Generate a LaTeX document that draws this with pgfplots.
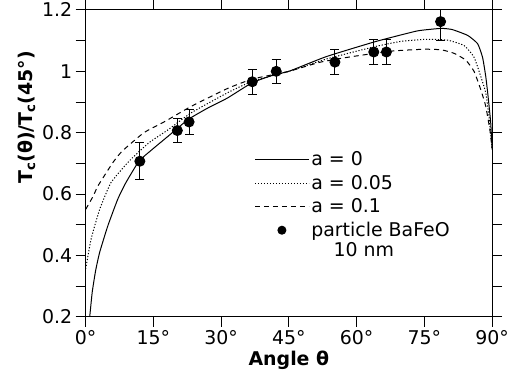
\documentclass[border=0pt]{standalone}
\usepackage{fontspec}
\setmainfont{DejaVu Sans}
\usepackage{pgfplots}
\pgfplotsset{compat=1.18}
\pgfplotsset{lineleg/.style={legend image code/.code={\draw[##1] (0pt,0pt) -- (54pt,0pt);}},
  dotleg/.style={legend image code/.code={\fill (27pt,0pt) circle (4pt);}}}
\begin{document}
\begin{tikzpicture}
\begin{axis}[name=ax, scale only axis, width=408pt, height=308pt,
 xmin=0, xmax=90, ymin=0.2, ymax=1.2,
 xtick={0,15,30,45,60,75,90}, xticklabels={0°,15°,30°,45°,60°,75°,90°},
 ytick={0.2,0.4,0.6,0.8,1.0,1.2}, yticklabels={0.2,0.4,0.6,0.8,1,1.2},
 minor ytick={0.3,0.5,0.7,0.9,1.1},
 tick align=outside, major tick length=10pt, minor tick length=10pt,
 tick style={black, line width=1pt},
 axis line style={line width=1pt},
 ticklabel style={font=\fontsize{19}{19}\selectfont},
 xlabel={Angle θ},
 ylabel={T\textsubscript{c}(θ)/T\textsubscript{c}(45°)},
 label style={font=\bfseries\fontsize{19}{19}\selectfont},
 every axis y label/.append style={at={(ticklabel cs:0.65)}},
 legend cell align=left,
 legend style={at={(rel axis cs:0.415,0.545)}, anchor=north west, draw=none, fill=none,
   inner sep=0pt, font=\fontsize{19}{22}\selectfont, row sep=4pt},
 every axis plot/.append style={line width=1pt},
]
\addplot[black, solid, smooth, tension=0.3, lineleg] coordinates {
(0.9,0.2) (1.45,0.28) (2.2,0.35) (3.1,0.41) (4.9,0.496) (7.1,0.583) (8.9,0.637)
(11.8,0.707) (14.7,0.745) (18.3,0.789) (22.7,0.843) (27,0.88) (31.4,0.913)
(36.9,0.963) (42,0.99) (45,1.0) (53.3,1.048) (64.2,1.097) (72.9,1.13) (75.1,1.135)
(78.8,1.14) (81.2,1.136) (84.6,1.117) (86.8,1.09) (87.9,1.045) (88.6,0.983)
(89.1,0.92) (89.7,0.832) (90,0.745)};
\addlegendentry{a = 0}
\addplot[black, dash pattern=on 1.2pt off 1.8pt, smooth, tension=0.3, lineleg] coordinates {
(0,0.356) (1.2,0.453) (3.1,0.55) (5.6,0.637) (9.6,0.707) (14,0.767) (18.3,0.81)
(23.4,0.865) (31.4,0.93) (37,0.968) (45,1.0) (53.3,1.04) (64.2,1.081) (70,1.098)
(75,1.104) (80,1.102) (83.8,1.084) (86,1.046) (87.5,0.983) (88.6,0.93) (89.3,0.854) (90,0.75)};
\addlegendentry{a = 0.05}
\addplot[black, dash pattern=on 5pt off 4pt, smooth, tension=0.3, lineleg] coordinates {
(0,0.55) (1.7,0.594) (2.7,0.626) (6,0.702) (8.1,0.74) (12.9,0.8) (17.6,0.837)
(23.4,0.886) (31.4,0.944) (37,0.975) (45,1.0) (52,1.03) (59,1.048) (67.8,1.066)
(75,1.072) (78.8,1.07) (81.7,1.058) (84.2,1.036) (86,1.0) (87.5,0.94) (88.6,0.886)
(89.5,0.81) (90,0.75)};
\addlegendentry{a = 0.1}
\addplot[black, only marks, mark=*, mark size=5pt, dotleg,
  error bars/.cd, y dir=both, y explicit,
  error mark options={rotate=90, mark size=4.5pt, line width=1pt},
  error bar style={line width=1pt}]
  table[x=x, y=y, y error=e] {
x y e
12.0 0.707 0.06
20.3 0.807 0.04
22.9 0.835 0.04
36.9 0.966 0.04
42.2 1.000 0.04
55.2 1.030 0.04
63.8 1.063 0.04
66.6 1.063 0.04
78.6 1.162 0.06
};
\addlegendentry{particle BaFeO}
\node[font=\fontsize{19}{19}\selectfont] at (axis cs:61.6,0.418) {10 nm};
\end{axis}
\pgfresetboundingbox
\useasboundingbox ([xshift=-86pt,yshift=-65pt]ax.south west) rectangle ([xshift=20pt,yshift=10pt]ax.north east);
\end{tikzpicture}
\end{document}
